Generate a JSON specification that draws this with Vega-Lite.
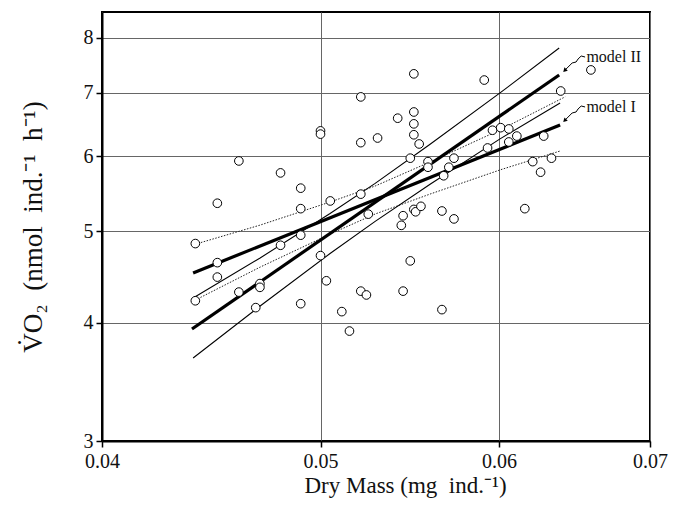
{
  "$schema": "https://vega.github.io/schema/vega-lite/v6.json",
  "width": 548,
  "height": 429,
  "autosize": {"type": "none"},
  "padding": {"left": 102, "top": 12, "right": 33, "bottom": 73},
  "config": {
    "font": "Liberation Serif",
    "view": {"stroke": "black", "strokeWidth": 2},
    "axis": {"labelFont": "Liberation Serif", "titleFont": "Liberation Serif", "titleFontWeight": "normal"}
  },
  "datasets": {
    "pts": [
      {"m":0.0440,"v":4.85},{"m":0.0440,"v":4.22},{"m":0.0450,"v":5.35},{"m":0.0450,"v":4.63},{"m":0.0450,"v":4.47},
      {"m":0.0460,"v":5.93},{"m":0.0460,"v":4.31},{"m":0.0468,"v":4.15},{"m":0.0470,"v":4.40},{"m":0.0470,"v":4.36},
      {"m":0.0480,"v":5.76},{"m":0.0480,"v":4.83},{"m":0.0490,"v":5.55},{"m":0.0490,"v":5.28},{"m":0.0490,"v":4.95},
      {"m":0.0490,"v":4.19},{"m":0.0500,"v":6.38},{"m":0.0500,"v":6.33},{"m":0.0500,"v":4.71},{"m":0.0503,"v":4.43},
      {"m":0.0505,"v":5.38},{"m":0.0511,"v":4.11},{"m":0.0515,"v":3.92},{"m":0.0521,"v":6.93},{"m":0.0521,"v":6.20},
      {"m":0.0521,"v":5.47},{"m":0.0521,"v":4.32},{"m":0.0524,"v":4.28},{"m":0.0525,"v":5.21},{"m":0.0530,"v":6.27},
      {"m":0.0541,"v":6.58},{"m":0.0543,"v":5.07},{"m":0.0544,"v":5.19},{"m":0.0544,"v":4.32},{"m":0.0548,"v":5.97},
      {"m":0.0548,"v":4.65},{"m":0.0550,"v":7.33},{"m":0.0550,"v":6.68},{"m":0.0550,"v":6.49},{"m":0.0550,"v":6.32},
      {"m":0.0550,"v":5.27},{"m":0.0551,"v":5.24},{"m":0.0554,"v":5.31},{"m":0.0553,"v":6.18},{"m":0.0558,"v":5.92},
      {"m":0.0558,"v":5.84},{"m":0.0566,"v":5.25},{"m":0.0567,"v":5.72},{"m":0.0570,"v":5.84},{"m":0.0573,"v":5.97},
      {"m":0.0573,"v":5.15},{"m":0.0591,"v":7.22},{"m":0.0593,"v":6.12},{"m":0.0596,"v":6.39},{"m":0.0601,"v":6.43},
      {"m":0.0606,"v":6.41},{"m":0.0606,"v":6.21},{"m":0.0611,"v":6.30},{"m":0.0616,"v":5.28},{"m":0.0621,"v":5.92},
      {"m":0.0626,"v":5.77},{"m":0.0628,"v":6.30},{"m":0.0633,"v":5.97},{"m":0.0639,"v":7.03},{"m":0.0659,"v":7.40},
      {"m":0.0566,"v":4.13}
    ],
    "fit": [
      {"s":"I","m":0.0439,"v":4.515},{"s":"I","m":0.06386,"v":6.472},
      {"s":"II","m":0.04385,"v":3.94},{"s":"II","m":0.0638,"v":7.309}
    ],
    "band2": [
      {"s":"up","m":0.0439,"v":4.248},{"s":"up","m":0.04701,"v":4.683},{"s":"up","m":0.05049,"v":5.218},{"s":"up","m":0.05287,"v":5.615},{"s":"up","m":0.05592,"v":6.175},{"s":"up","m":0.06006,"v":6.998},{"s":"up","m":0.0638,"v":7.805},
      {"s":"lo","m":0.0439,"v":3.671},{"s":"lo","m":0.04701,"v":4.166},{"s":"lo","m":0.05049,"v":4.734},{"s":"lo","m":0.05287,"v":5.119},{"s":"lo","m":0.05592,"v":5.602},{"s":"lo","m":0.06006,"v":6.257},{"s":"lo","m":0.06386,"v":6.828}
    ],
    "band1": [
      {"s":"up","m":0.04399,"v":4.842},{"s":"up","m":0.04701,"v":5.073},{"s":"up","m":0.05054,"v":5.37},{"s":"up","m":0.05287,"v":5.579},{"s":"up","m":0.05592,"v":5.915},{"s":"up","m":0.06006,"v":6.395},{"s":"up","m":0.06419,"v":6.931},
      {"s":"lo","m":0.04399,"v":4.226},{"s":"lo","m":0.04701,"v":4.58},{"s":"lo","m":0.05054,"v":4.968},{"s":"lo","m":0.05287,"v":5.212},{"s":"lo","m":0.05592,"v":5.471},{"s":"lo","m":0.06006,"v":5.802},{"s":"lo","m":0.0639,"v":6.078}
    ],
    "arrows": [
      {"s":"II","m":0.06551,"v":7.636},{"s":"II","m":0.06525,"v":7.655},{"s":"II","m":0.06504,"v":7.599},{"s":"II","m":0.06491,"v":7.544},{"s":"II","m":0.06465,"v":7.526},{"s":"II","m":0.06419,"v":7.399},
      {"s":"I","m":0.06551,"v":6.762},{"s":"I","m":0.06525,"v":6.778},{"s":"I","m":0.06504,"v":6.729},{"s":"I","m":0.06491,"v":6.68},{"s":"I","m":0.06465,"v":6.664},{"s":"I","m":0.06419,"v":6.551}
    ],
    "heads": [{"m":0.06419,"v":7.399},{"m":0.06419,"v":6.551}],
    "labels": [{"m":0.0656,"v":7.636,"t":"model II"},{"m":0.0656,"v":6.762,"t":"model I"}]
  },
  "encoding": {
    "x": {
      "field": "m", "type": "quantitative",
      "scale": {"type": "log", "domain": [0.04, 0.07], "nice": false, "zero": false},
      "axis": {
        "title": "Dry Mass (mg\u00a0\u00a0ind.⁻¹)",
        "values": [0.04, 0.05, 0.06, 0.07], "format": ".2f",
        "grid": true, "gridColor": "#666", "gridWidth": 1,
        "tickColor": "black", "tickSize": 6, "tickWidth": 1.5,
        "domainColor": "black", "domainWidth": 2,
        "labelFontSize": 20, "labelColor": "#111", "labelPadding": 4, "labelFlush": false, "labelOverlap": false,
        "titleFontSize": 23, "titleColor": "#111", "titlePadding": 3,
        "titleX": 303, "titleAlign": "center"
      }
    },
    "y": {
      "field": "v", "type": "quantitative",
      "scale": {"type": "log", "domain": [3, 8.52], "nice": false, "zero": false},
      "axis": {
        "title": "V̇O₂\u00a0\u00a0(nmol\u00a0\u00a0ind.⁻¹\u00a0\u00a0h⁻¹)",
        "values": [3, 4, 5, 6, 7, 8], "format": "d",
        "grid": true, "gridColor": "#666", "gridWidth": 1,
        "tickColor": "black", "tickSize": 6, "tickWidth": 1.5,
        "domainColor": "black", "domainWidth": 2,
        "labelFontSize": 20, "labelColor": "#111", "labelPadding": 3, "labelOverlap": false,
        "titleFontSize": 27, "titleColor": "#111", "titlePadding": 36
      }
    }
  },
  "layer": [
    {"data": {"name": "band1"}, "mark": {"type": "line", "color": "#222", "strokeWidth": 1, "strokeDash": [1.5, 1.5]}, "encoding": {"detail": {"field": "s"}}},
    {"data": {"name": "band2"}, "mark": {"type": "line", "color": "black", "strokeWidth": 1.1}, "encoding": {"detail": {"field": "s"}}},
    {"data": {"name": "fit"}, "mark": {"type": "line", "color": "black", "strokeWidth": 3.2}, "encoding": {"detail": {"field": "s"}}},
    {"data": {"name": "pts"}, "mark": {"type": "point", "shape": "circle", "filled": true, "fill": "white", "stroke": "black", "strokeWidth": 1, "size": 75, "opacity": 1}},
    {"data": {"name": "arrows"}, "mark": {"type": "line", "color": "black", "strokeWidth": 1}, "encoding": {"detail": {"field": "s"}}},
    {"data": {"name": "heads"}, "mark": {"type": "point", "shape": "triangle", "filled": true, "color": "black", "size": 22, "angle": 225, "opacity": 1}},
    {"data": {"name": "labels"}, "mark": {"type": "text", "align": "left", "baseline": "middle", "fontSize": 16, "font": "Liberation Serif", "color": "#111"}, "encoding": {"text": {"field": "t"}}}
  ]
}
